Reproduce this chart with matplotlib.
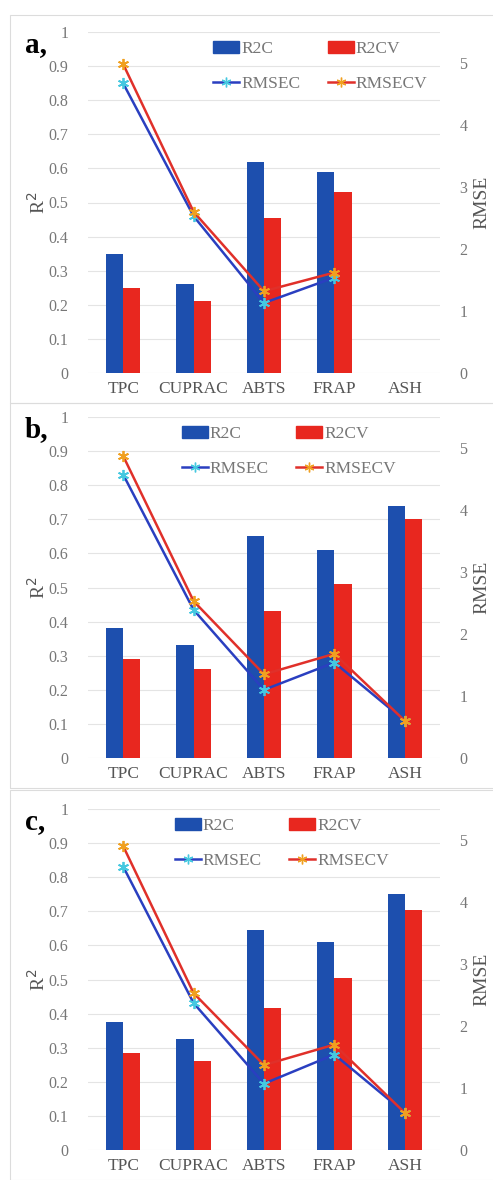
import matplotlib.pyplot as plt
import numpy as np
from matplotlib.lines import Line2D

plt.rcParams['font.family'] = ['Liberation Serif', 'DejaVu Serif']

categories = ['TPC', 'CUPRAC', 'ABTS', 'FRAP', 'ASH']
panel_labels = ['a,', 'b,', 'c,']

# R2 values (left axis)
r2c_a = [0.35, 0.26, 0.62, 0.59, np.nan]
r2cv_a = [0.25, 0.21, 0.455, 0.53, np.nan]
r2c_b = [0.38, 0.33, 0.65, 0.61, 0.74]
r2cv_b = [0.29, 0.26, 0.43, 0.51, 0.70]
r2c_c = [0.375, 0.325, 0.645, 0.61, 0.75]
r2cv_c = [0.285, 0.26, 0.415, 0.505, 0.705]

# RMSE values (right axis)
rmsec_a = [4.67, 2.53, 1.13, 1.54, np.nan]
rmsecv_a = [4.98, 2.60, 1.32, 1.62, np.nan]
rmsec_b = [4.57, 2.39, 1.10, 1.54, 0.60]
rmsecv_b = [4.87, 2.53, 1.35, 1.68, 0.60]
rmsec_c = [4.57, 2.37, 1.07, 1.54, 0.60]
rmsecv_c = [4.90, 2.53, 1.37, 1.70, 0.60]

panels = [
    (r2c_a, r2cv_a, rmsec_a, rmsecv_a),
    (r2c_b, r2cv_b, rmsec_b, rmsecv_b),
    (r2c_c, r2cv_c, rmsec_c, rmsecv_c),
]

blue = '#1d4fae'
red = '#e8271f'
line_blue = '#2a3fc0'
line_red = '#e0302a'
star = (6, 2, 0)

fig = plt.figure(figsize=(4.93, 11.8), dpi=100)
H = 1180.0
W = 493.0

# frames of the three chart areas
frames = [(15, 403), (403, 788), (790, 1180)]
for top, bot in frames:
    fig.add_artist(plt.Rectangle((10 / W, 1 - bot / H), 1.0, (bot - top) / H,
                                 transform=fig.transFigure, fill=False,
                                 edgecolor='#dcdcdc', lw=0.8))

bottoms_px = [373, 758, 1150]
legend_x = [0.66, 0.57, 0.55]
x = np.arange(len(categories))
bw = 0.245

for i, (r2c, r2cv, rmsec, rmsecv) in enumerate(panels):
    b = 1 - bottoms_px[i] / H
    ax = fig.add_axes([88 / W, b, 352 / W, 341 / H])
    ax.bar(x - bw / 2, r2c, bw, color=blue, label='R2C', zorder=2)
    ax.bar(x + bw / 2, r2cv, bw, color=red, label='R2CV', zorder=2)
    ax.set_ylim(0, 1)
    ax.set_xlim(-0.5, 4.5)
    ax.set_yticks(np.arange(0, 1.01, 0.1))
    ax.set_yticklabels(['0'] + ['%.1f' % v for v in np.arange(0.1, 0.95, 0.1)] + ['1'])
    ax.grid(axis='y', color='#e4e4e4', lw=0.8, zorder=0)
    ax.set_xticks(x)
    ax.set_xticklabels(categories)
    for s in ax.spines.values():
        s.set_visible(False)
    ax.tick_params(length=0, labelsize=11.5, colors='#777777', pad=14)
    ax.tick_params(axis='x', colors='#555555', labelsize=12.5, pad=6)
    ax.set_ylabel('R$^2$', fontsize=14, color='#555555', labelpad=0)

    ax2 = ax.twinx()
    ax2.plot(x, rmsec, color=line_blue, lw=1.8, marker=star, ms=8,
             mec='#45c8e0', mew=1.3, label='RMSEC', zorder=3)
    ax2.plot(x, rmsecv, color=line_red, lw=1.8, marker=star, ms=8,
             mec='#f0a020', mew=1.3, label='RMSECV', zorder=3)
    ax2.set_ylim(0, 5.5)
    ax2.set_yticks(range(6))
    for s in ax2.spines.values():
        s.set_visible(False)
    ax2.tick_params(length=0, labelsize=11.5, colors='#777777', pad=14)
    ax2.set_ylabel('RMSE', fontsize=14, color='#555555', labelpad=4)

    handles = [plt.Rectangle((0, 0), 1, 1, color=blue),
               Line2D([], [], color=line_blue, lw=1.8, marker=star, ms=7,
                      mec='#45c8e0'),
               plt.Rectangle((0, 0), 1, 1, color=red),
               Line2D([], [], color=line_red, lw=1.8, marker=star, ms=7,
                      mec='#f0a020')]
    labels = ['R2C', 'RMSEC', 'R2CV', 'RMSECV']
    leg = ax.legend(handles, labels, ncol=2, loc='upper center',
                    bbox_to_anchor=(legend_x[i], 1.02),
                    frameon=False, fontsize=12.5, handlelength=1.5,
                    handletextpad=0.1, columnspacing=1.6, labelspacing=1.1)
    for t in leg.get_texts():
        t.set_color('#777777')
    ax2.set_zorder(ax.get_zorder() + 1)
    ax2.patch.set_visible(False)

    fig.text(25 / W, 1 - (bottoms_px[i] - 328) / H, panel_labels[i],
             fontsize=21, fontweight='bold', color='black', va='center')

fig.savefig('out.png', dpi=100)
